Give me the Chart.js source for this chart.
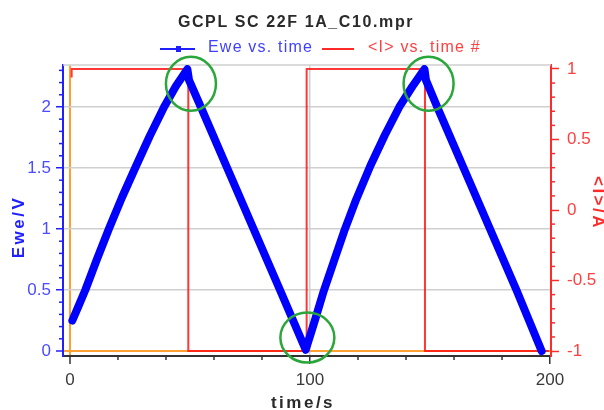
<!DOCTYPE html>
<html>
<head>
<meta charset="utf-8">
<script src="https://cdn.jsdelivr.net/npm/chart.js@4/dist/chart.umd.min.js"></script>
<style>
  html, body { margin: 0; padding: 0; background: #fff; }
</style>
</head>
<body>
<canvas id="gcpl" width="604" height="410"></canvas>
<script>
const chartTitle = 'GCPL SC 22F 1A_C10.mpr';
const seriesNames = ['Ewe vs. time', '<I> vs. time #'];
const axisTitles = { x: 'time/s', y: 'Ewe/V', y2: '<I>/A' };

// Ewe (V) against time (s), two charge/discharge cycles
const eweTime = [1, 3.6, 6.4, 11.2, 16.2, 21.7, 27.4, 33.2, 39.2, 44.1, 48.9,
                 49.6, 54.5, 65.5, 76.5, 87.5, 98.2,
                 101.7, 105.7, 110.2, 114.2, 119.2, 125.2, 131.2, 137.2, 142.7, 147.7,
                 148.3, 153, 164, 175, 186, 196.5];
const ewe = [0.25, 0.37, 0.5, 0.75, 1.0, 1.26, 1.51, 1.76, 2.0, 2.17, 2.31,
             2.22, 2.0, 1.5, 1.0, 0.5, 0.01,
             0.23, 0.49, 0.75, 0.98, 1.24, 1.52, 1.77, 2.0, 2.17, 2.31,
             2.22, 2.0, 1.5, 1.0, 0.5, 0.0];

// <I> (A) against time (s)
const curTime = [0.7, 0.7, 49.3, 49.3, 98.6, 98.6, 147.9, 147.9, 199.5];
const cur = [0.94, 1, 1, -1, -1, 1, 1, -1, -1];

const timeTicks = [0, 100, 200];
const eweTicks = [0, 0.5, 1, 1.5, 2];
const curTicks = [-1, -0.5, 0, 0.5, 1];

// turning points ringed in green (time, Ewe)
const ringTime = [50.4, 98.9, 149.4];
const ringEwe = [2.19, 0.11, 2.19];

const FONT = "'Liberation Sans', Arial, sans-serif";
const BLUE = '#2020ff';
const RED = '#ff2a2a';
const GRID = '#cfcfcf';
const ORANGE = '#ffa033';

function minorTicks(ctx, scale, step, major, len, color, side) {
  ctx.save();
  ctx.strokeStyle = color;
  ctx.lineWidth = 1.5;
  const n0 = Math.ceil(scale.min / step - 1e-9), n1 = Math.floor(scale.max / step + 1e-9);
  for (let n = n0; n <= n1; n++) {
    const v = n * step;
    if (Math.abs(v / major - Math.round(v / major)) < 1e-6) continue;
    const p = scale.getPixelForValue(v);
    ctx.beginPath();
    if (side === 'bottom') { ctx.moveTo(p, scale.top); ctx.lineTo(p, scale.top + len); }
    else if (side === 'left') { ctx.moveTo(scale.right, p); ctx.lineTo(scale.right - len, p); }
    else { ctx.moveTo(scale.left, p); ctx.lineTo(scale.left + len, p); }
    ctx.stroke();
  }
  ctx.restore();
}

function label(ctx, str, x, y, font, color, spacing, align, angle) {
  ctx.save();
  ctx.translate(x, y);
  if (angle) ctx.rotate(angle);
  ctx.font = font;
  ctx.fillStyle = color;
  ctx.letterSpacing = spacing + 'px';
  ctx.textAlign = align;
  ctx.textBaseline = 'middle';
  ctx.fillText(str, 0, 0);
  ctx.restore();
}

const decor = {
  id: 'decor',
  beforeDatasetsDraw(chart) {
    const { ctx, chartArea: a } = chart;
    ctx.save();
    ctx.strokeStyle = GRID;
    ctx.lineWidth = 1.5;
    ctx.beginPath();
    ctx.moveTo(a.left, a.top);
    ctx.lineTo(a.right, a.top);
    ctx.stroke();
    ctx.restore();
  },
  afterDraw(chart) {
    const { ctx, scales } = chart;
    minorTicks(ctx, scales.x, 20, 100, 4, '#333', 'bottom');
    minorTicks(ctx, scales.y, 0.1, 0.5, 4, BLUE, 'left');
    minorTicks(ctx, scales.y2, 0.1, 0.5, 4, RED, 'right');

    // green rings
    ctx.save();
    ctx.strokeStyle = '#2aa63a';
    ctx.lineWidth = 2.5;
    ringTime.forEach((t, i) => {
      const cx = scales.x.getPixelForValue(t);
      const cy = scales.y.getPixelForValue(ringEwe[i]);
      ctx.beginPath();
      ctx.ellipse(cx, cy, i === 1 ? 27 : 25, i === 1 ? 25 : 27, 0, 0, Math.PI * 2);
      ctx.stroke();
    });
    ctx.restore();

    // title and legend
    label(ctx, chartTitle, 296, 23, 'bold 16px ' + FONT, '#2a2a2a', 1.6, 'center');
    ctx.save();
    ctx.lineWidth = 2;
    ctx.strokeStyle = BLUE;
    ctx.beginPath(); ctx.moveTo(160, 49); ctx.lineTo(195, 49); ctx.stroke();
    ctx.fillStyle = BLUE;
    ctx.fillRect(176, 46, 5, 6);
    ctx.strokeStyle = RED;
    ctx.beginPath(); ctx.moveTo(322, 49); ctx.lineTo(354, 49); ctx.stroke();
    ctx.restore();
    label(ctx, seriesNames[0], 208, 48, '16px ' + FONT, '#4040ff', 1.2, 'left');
    label(ctx, seriesNames[1], 368, 48, '16px ' + FONT, '#ff4040', 1.2, 'left');

    // axis titles
    label(ctx, axisTitles.y, 19, 227, 'bold 17px ' + FONT, BLUE, 2.5, 'center', -Math.PI / 2);
    label(ctx, axisTitles.x, 303, 403, 'bold 17px ' + FONT, '#2a2a2a', 2.5, 'center');
    label(ctx, axisTitles.y2, 598, 203, 'bold 17px ' + FONT, RED, 2.5, 'center', Math.PI / 2);
  }
};

const pts = (xs, ys) => xs.map((x, i) => ({ x, y: ys[i] }));
const plain = v => String(v);

new Chart(document.getElementById('gcpl'), {
  type: 'line',
  data: {
    datasets: [
      {
        label: seriesNames[0],
        data: pts(eweTime, ewe),
        yAxisID: 'y',
        borderColor: '#0000ff',
        borderWidth: 8,
        borderJoinStyle: 'round',
        borderCapStyle: 'round',
        pointRadius: 0,
        tension: 0
      },
      {
        label: seriesNames[1],
        data: pts(curTime, cur),
        yAxisID: 'y2',
        borderColor: 'rgba(255,20,20,0.85)',
        borderWidth: 2,
        pointRadius: 0,
        tension: 0
      }
    ]
  },
  options: {
    responsive: false,
    animation: false,
    devicePixelRatio: 1,
    layout: { padding: { top: 65 } },
    plugins: {
      legend: { display: false },
      title: { display: false },
      tooltip: { enabled: false }
    },
    scales: {
      x: {
        type: 'linear',
        min: -2.9,
        max: 200.4,
        afterBuildTicks: s => { s.ticks = timeTicks.map(v => ({ value: v })); },
        afterFit: s => { s.height = 54; },
        ticks: { color: '#3a3a3a', font: { family: FONT, size: 17 }, padding: 6, maxRotation: 0, callback: plain },
        grid: {
          color: c => c.tick.value === 0 ? ORANGE : (c.tick.value === 100 ? GRID : 'rgba(0,0,0,0)'),
          lineWidth: c => c.tick.value === 0 ? 2 : 1.5,
          tickColor: '#333',
          tickLength: 8,
          tickWidth: 1.5
        },
        border: { color: '#333', width: 2 }
      },
      y: {
        position: 'left',
        min: -0.041,
        max: 2.344,
        afterBuildTicks: s => { s.ticks = eweTicks.map(v => ({ value: v })); },
        afterFit: s => { s.width = 63; },
        ticks: { color: '#4b4bff', font: { family: FONT, size: 17 }, padding: 5, callback: plain },
        grid: {
          color: c => c.tick.value === 0 ? ORANGE : GRID,
          lineWidth: c => c.tick.value === 0 ? 2 : 1.5,
          tickColor: BLUE,
          tickLength: 7,
          tickWidth: 1.5
        },
        border: { color: BLUE, width: 2 }
      },
      y2: {
        position: 'right',
        min: -1.035,
        max: 1.028,
        afterBuildTicks: s => { s.ticks = curTicks.map(v => ({ value: v })); },
        afterFit: s => { s.width = 53; },
        ticks: { color: '#ff4040', font: { family: FONT, size: 17 }, padding: 8, callback: plain },
        grid: {
          drawOnChartArea: false,
          tickColor: RED,
          tickLength: 8,
          tickWidth: 1.5
        },
        border: { color: RED, width: 2 }
      }
    }
  },
  plugins: [decor]
});
</script>
</body>
</html>
